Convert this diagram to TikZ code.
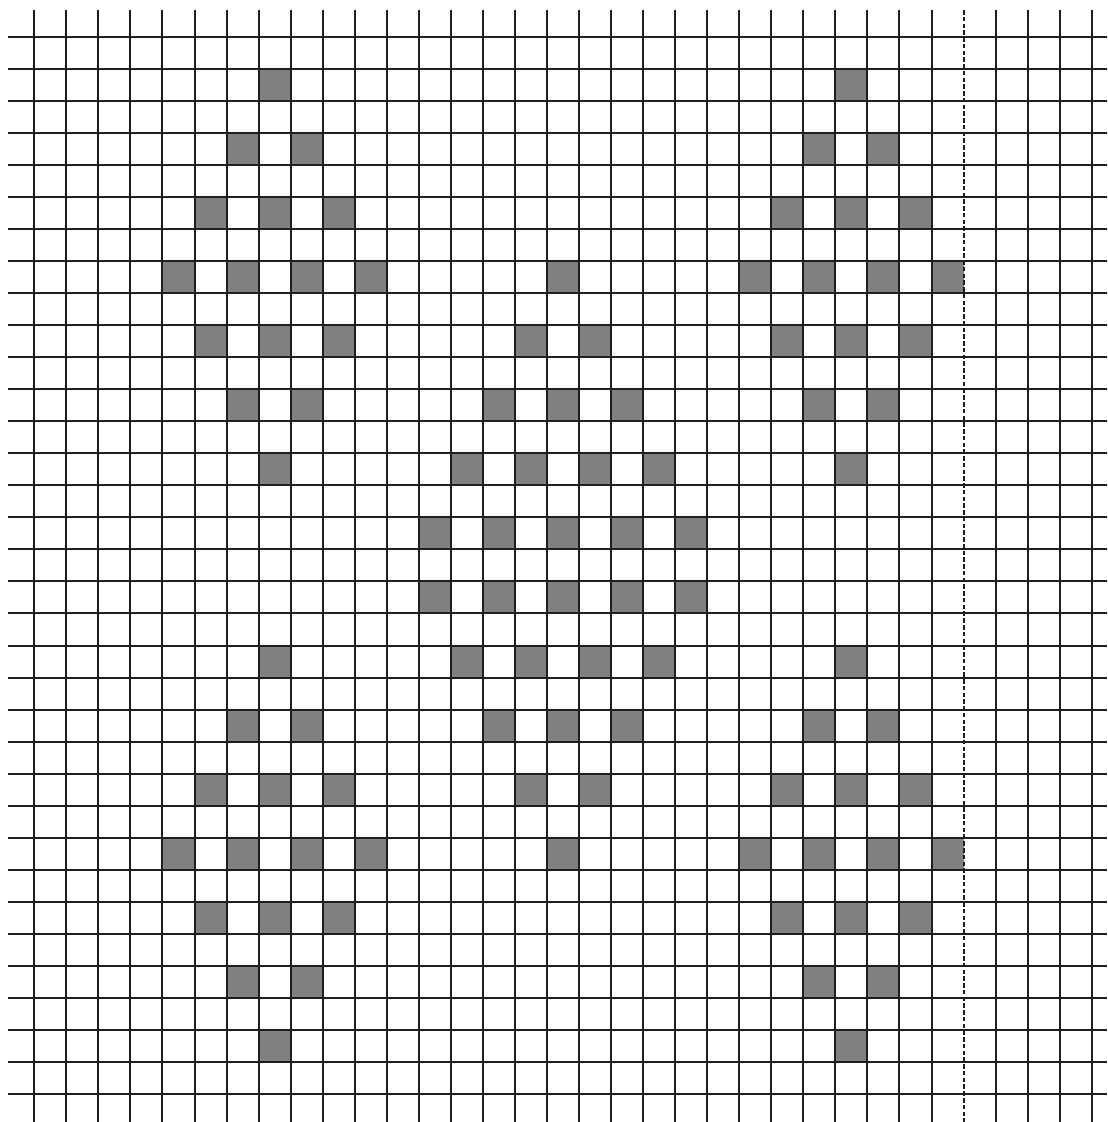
\documentclass[tikz,border=0pt]{standalone}
\usepackage{tikz}
\definecolor{gridK}{RGB}{30,30,30}
\definecolor{cellG}{RGB}{128,128,128}
\tikzset{gridline/.style={line width=0.9pt, gridK},
  foldline/.style={line width=0.85pt, gridK, dash pattern=on 2pt off 1pt},
  stitch/.style={fill=cellG}}
\begin{document}
\begin{tikzpicture}[x=0.5cm, y=-0.5cm]
\useasboundingbox (-1.0705,-1.1455) rectangle (33.48,33.87);
% ===== small diamonds in the four corners =====
\foreach \ox/\oy in {0/0, 18/0, 0/18, 18/18}
  \foreach \r/\cs in {1/{7}, 3/{6,8}, 5/{5,7,9}, 7/{4,6,8,10}, 9/{5,7,9}, 11/{6,8}, 13/{7}}
    \foreach \c in \cs
      \fill[stitch] (\c+\ox,\r+\oy) rectangle ++(1,1);
% ===== large diamond in the middle =====
\foreach \r/\cs in {7/{16}, 9/{15,17}, 11/{14,16,18}, 13/{13,15,17,19}, 15/{12,14,16,18,20},
    17/{12,14,16,18,20}, 19/{13,15,17,19}, 21/{14,16,18}, 23/{15,17}, 25/{16}}
  \foreach \c in \cs
    \fill[stitch] (\c,\r) rectangle ++(1,1);
% ===== grid =====
\foreach \j in {0,...,33}
  \draw[gridline] (-0.82,\j) -- (33.48,\j);
\foreach \i in {0,...,28,30,31,32,33}
  \draw[gridline] (\i,-0.83) -- (\i,33.87);
% repeat boundary
\draw[foldline] (29,-0.83) -- (29,33.87);
\end{tikzpicture}
\end{document}
